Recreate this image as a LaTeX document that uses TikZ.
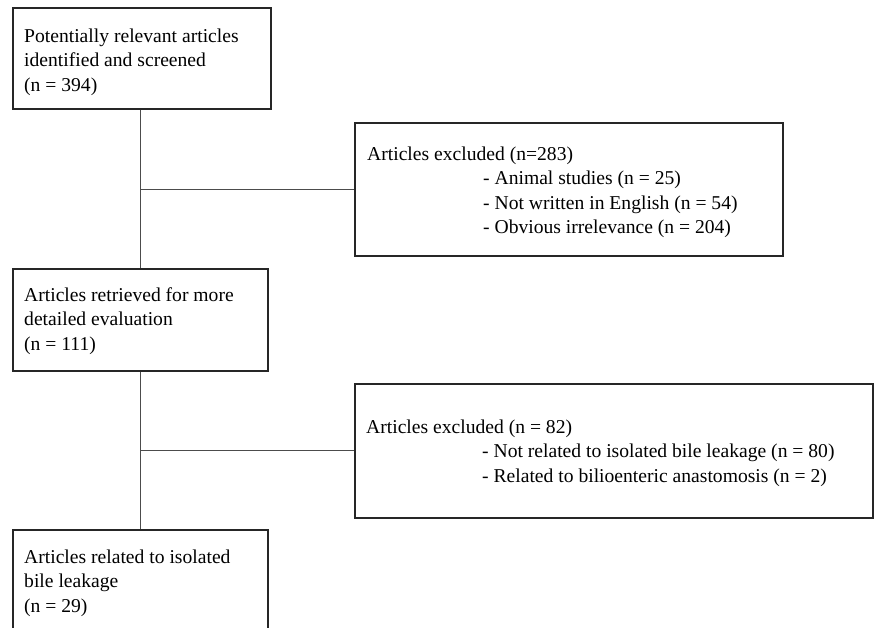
\documentclass[tikz,border=0pt]{standalone}
\usepackage{fontspec}
\setmainfont{Liberation Serif}
\begin{document}
\begin{tikzpicture}[x=1pt,y=-1pt,
  boxnode/.style={draw=black!85, line width=1.6pt, anchor=north west, inner sep=0pt, fill=none},
  txt/.style={anchor=base west, inner sep=0pt, font=\fontsize{19.6}{24.5}\selectfont},
  conn/.style={draw=black!70, line width=0.9pt}]
\useasboundingbox (0,0) rectangle (896,627);
% boxes
\node[boxnode, minimum width=258pt, minimum height=101pt] (b1) at (12,7) {};
\node[boxnode, minimum width=428pt, minimum height=133pt] (b2) at (354,122) {};
\node[boxnode, minimum width=255pt, minimum height=102pt] (b3) at (12,268) {};
\node[boxnode, minimum width=518pt, minimum height=134pt] (b4) at (354,383) {};
\node[boxnode, minimum width=255pt, minimum height=130pt] (b5) at (12,529) {};
% texts
\node[txt] (t1) at (24,42) {\begin{tabular}[t]{@{}l@{}}Potentially relevant articles\\ identified and screened\\ (n = 394)\end{tabular}};
\node[txt] (t2) at (367,160) {\begin{tabular}[t]{@{}l@{}}Articles excluded (n=283)\\ \hspace*{116pt}- Animal studies (n = 25)\\ \hspace*{116pt}- Not written in English (n = 54)\\ \hspace*{116pt}- Obvious irrelevance (n = 204)\end{tabular}};
\node[txt] (t3) at (24,301) {\begin{tabular}[t]{@{}l@{}}Articles retrieved for more\\ detailed evaluation\\ (n = 111)\end{tabular}};
\node[txt] (t4) at (366,433) {\begin{tabular}[t]{@{}l@{}}Articles excluded (n = 82)\\ \hspace*{116pt}- Not related to isolated bile leakage (n = 80)\\ \hspace*{116pt}- Related to bilioenteric anastomosis (n = 2)\end{tabular}};
\node[txt] (t5) at (24,563) {\begin{tabular}[t]{@{}l@{}}Articles related to isolated\\ bile leakage\\ (n = 29)\end{tabular}};
% connectors
\coordinate (j1) at (140,0 |- b2.west);
\coordinate (j2) at (140,0 |- b4.west);
\draw[conn] (140,0 |- b1.south) -- (140,0 |- b3.north);
\draw[conn] (j1) -- (b2.west);
\draw[conn] (140,0 |- b3.south) -- (140,0 |- b5.north);
\draw[conn] (j2) -- (b4.west);
\end{tikzpicture}
\end{document}
